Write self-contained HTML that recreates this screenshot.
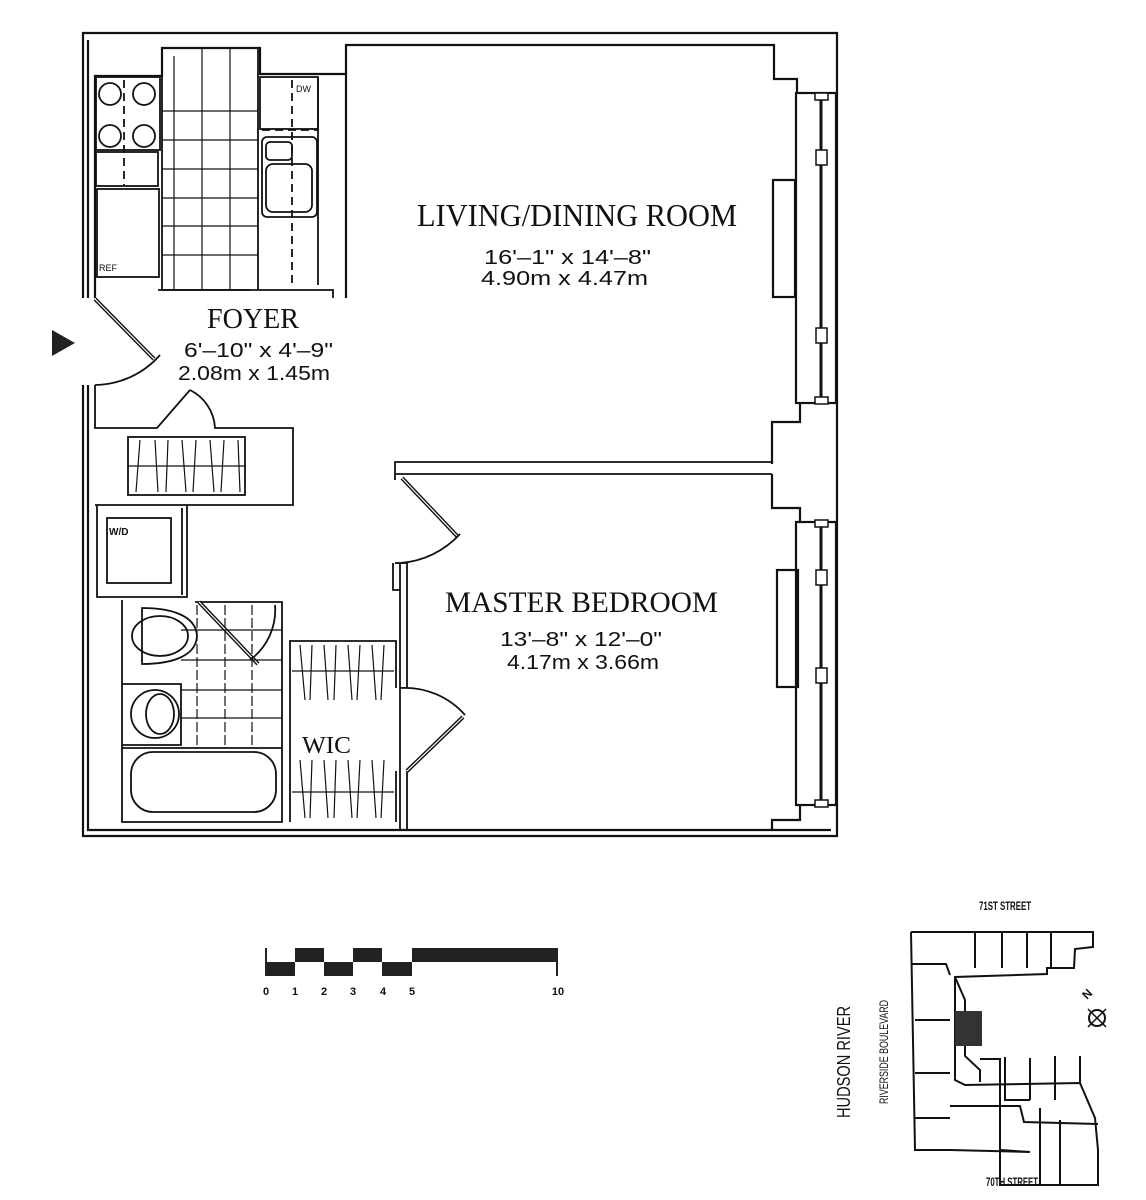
<!DOCTYPE html>
<html><head><meta charset="utf-8"><style>
html,body{margin:0;padding:0;background:#fff;width:1146px;height:1200px;overflow:hidden}
svg{display:block}
.s{font-family:"Liberation Serif",serif;fill:#111}
.a{font-family:"Liberation Sans",sans-serif;fill:#111}
</style></head><body>
<svg width="1146" height="1200" viewBox="0 0 1146 1200" xmlns="http://www.w3.org/2000/svg">
<g fill="none" stroke="#111" stroke-width="2.2">
<!-- outer shell -->
<path d="M83,298 L83,33 L837,33 L837,836 L83,836 L83,385"/>
<path d="M88,298 L88,40 M88,385 L88,830 L831,830"/>
<!-- kitchen outline -->
<path d="M95,298 L95,76 L162,76 L162,48 L260,48 L260,74 L346,74"/>
<path d="M346,298 L346,45 L774,45 L774,79 L797,79 L797,93"/>
<!-- windows -->
<rect x="796" y="93" width="40" height="310"/>
<rect x="796" y="522" width="40" height="283"/>
<path d="M800,403 L800,422 L772,422 L772,464 M772,474 L772,508 L800,508 L800,522"/>
<path d="M800,805 L800,820 L772,820 L772,830"/>
<rect x="773" y="180" width="22" height="117"/>
<rect x="777" y="570" width="21" height="117"/>
</g>
<g stroke="#111" stroke-width="3">
<line x1="821" y1="97" x2="821" y2="400"/>
<line x1="821" y1="526" x2="821" y2="802"/>
</g>
<g fill="#fff" stroke="#111" stroke-width="1.5">
<rect x="815" y="93" width="13" height="7"/><rect x="815" y="397" width="13" height="7"/>
<rect x="816" y="150" width="11" height="15"/><rect x="816" y="328" width="11" height="15"/>
<rect x="815" y="520" width="13" height="7"/><rect x="815" y="800" width="13" height="7"/>
<rect x="816" y="570" width="11" height="15"/><rect x="816" y="668" width="11" height="15"/>
</g>
<g fill="none" stroke="#111" stroke-width="1.8">
<!-- kitchen -->
<rect x="96" y="77" width="64" height="73"/>
<circle cx="110" cy="94" r="11"/><circle cx="144" cy="94" r="11"/>
<circle cx="110" cy="136" r="11"/><circle cx="144" cy="136" r="11"/>
<rect x="96" y="152" width="62" height="34"/>
<rect x="97" y="189" width="62" height="88"/>
<path d="M162,48 L162,290 L333,290 L333,298" />
<path d="M158,290 L250,290"/>
<line x1="258" y1="48" x2="258" y2="290"/>
<line x1="174" y1="56" x2="174" y2="290" stroke-width="1.2"/>
<line x1="202" y1="48" x2="202" y2="290" stroke-width="1.2"/>
<line x1="230" y1="48" x2="230" y2="290" stroke-width="1.2"/>
<line x1="162" y1="111" x2="258" y2="111" stroke-width="1.2"/>
<line x1="162" y1="140" x2="258" y2="140" stroke-width="1.2"/>
<line x1="162" y1="169" x2="258" y2="169" stroke-width="1.2"/>
<line x1="162" y1="198" x2="258" y2="198" stroke-width="1.2"/>
<line x1="162" y1="226" x2="258" y2="226" stroke-width="1.2"/>
<line x1="162" y1="255" x2="258" y2="255" stroke-width="1.2"/>
<rect x="260" y="77" width="58" height="52"/>
<rect x="262" y="137" width="55" height="80" rx="5"/>
<rect x="266" y="142" width="26" height="18" rx="4"/>
<rect x="266" y="164" width="46" height="48" rx="7"/>
<line x1="318" y1="77" x2="318" y2="285"/>
<line x1="124" y1="80" x2="124" y2="185" stroke-dasharray="8,5"/>
<line x1="292" y1="80" x2="292" y2="285" stroke-dasharray="8,5"/>
<line x1="262" y1="130" x2="318" y2="130" stroke-dasharray="8,5"/>
<!-- entry door -->
<line x1="95" y1="299" x2="154" y2="359" stroke-width="4"/>
<line x1="95" y1="299" x2="154" y2="359" stroke="#fff" stroke-width="1.2"/>
<path d="M160,355 A88,88 0 0 1 95,385"/>
<path d="M95,385 L95,428 L157,428 L190,390"/>
<path d="M190,390 A45,45 0 0 1 215,428 L293,428 L293,505 L95,505"/>
<rect x="128" y="437" width="117" height="58"/>
<line x1="128" y1="466" x2="245" y2="466" stroke-width="1.2"/>
<!-- W/D -->
<path d="M97,505 L97,597 L187,597 L187,505"/>
<rect x="107" y="518" width="64" height="65"/>
<line x1="182" y1="508" x2="182" y2="595"/>
<!-- bath -->
<path d="M122,600 L122,822 L282,822 L282,602 L195,602"/>
<line x1="199" y1="602" x2="258" y2="664" stroke-width="4"/>
<line x1="199" y1="602" x2="258" y2="664" stroke="#fff" stroke-width="1.2"/>
<path d="M275,605 A62,62 0 0 1 250,660"/>
<path d="M142,608 C170,608 196,615 197,636 C196,657 170,664 142,664 Z"/>
<ellipse cx="160" cy="636" rx="28" ry="20"/>
<path d="M122,684 L181,684 L181,745 L122,745"/>
<circle cx="155" cy="714" r="24"/>
<ellipse cx="160" cy="714" rx="14" ry="20"/>
<line x1="122" y1="748" x2="282" y2="748"/>
<rect x="131" y="752" width="145" height="60" rx="22"/>
<line x1="181" y1="630" x2="282" y2="630" stroke-width="1.2"/>
<line x1="181" y1="660" x2="282" y2="660" stroke-width="1.2"/>
<line x1="181" y1="690" x2="282" y2="690" stroke-width="1.2"/>
<line x1="181" y1="718" x2="282" y2="718" stroke-width="1.2"/>
<line x1="197" y1="605" x2="197" y2="745" stroke-width="1.2" stroke-dasharray="10,3"/>
<line x1="225" y1="605" x2="225" y2="745" stroke-width="1.2" stroke-dasharray="10,3"/>
<line x1="252" y1="605" x2="252" y2="745" stroke-width="1.2" stroke-dasharray="10,3"/>
<!-- WIC -->
<path d="M290,822 L290,641 L396,641 L396,688 M396,771 L396,822 Z"/>
<line x1="292" y1="671" x2="394" y2="671" stroke-width="1.2"/>
<line x1="292" y1="792" x2="394" y2="792" stroke-width="1.2"/>
<!-- bedroom partition -->
<path d="M395,480 L395,462 L773,462 M395,474 L772,474"/>
<path d="M400,563 L400,830 M407,563 L407,688 M407,771 L407,830"/>
<path d="M395,563 L407,563"/>
<line x1="402" y1="478" x2="458" y2="537" stroke-width="4"/>
<line x1="402" y1="478" x2="458" y2="537" stroke="#fff" stroke-width="1.2"/>
<path d="M460,534 A90,90 0 0 1 400,563"/>
<path d="M400,688 A80,80 0 0 1 465,715"/>
<line x1="463" y1="717" x2="407" y2="771" stroke-width="4"/>
<line x1="463" y1="717" x2="407" y2="771" stroke="#fff" stroke-width="1.2"/>
<path d="M393,563 L393,590 L400,590"/>
</g>
<!-- closet hangers -->
<g stroke="#111" stroke-width="1.2">
<path d="M140,440 L136,492 M155,440 L158,492 M168,440 L166,492 M182,440 L186,492 M196,440 L193,492 M210,440 L214,492 M224,440 L221,492 M238,440 L240,492"/>
<path d="M300,645 L305,700 M312,645 L310,700 M324,645 L328,700 M336,645 L334,700 M348,645 L352,700 M360,645 L357,700 M372,645 L376,700 M384,645 L381,700"/>
<path d="M300,760 L305,818 M312,760 L310,818 M324,760 L328,818 M336,760 L334,818 M348,760 L352,818 M360,760 L357,818 M372,760 L376,818 M384,760 L381,818"/>
</g>
<polygon points="52,330 75,343 52,356" fill="#222"/>
<text x="99" y="271" class="a" font-size="9">REF</text>
<text x="296" y="92" class="a" font-size="9">DW</text>
<text x="109" y="535" class="a" font-size="10" font-weight="bold">W/D</text>
<text x="417" y="226" class="s" font-size="32" textLength="320" lengthAdjust="spacingAndGlyphs">LIVING/DINING ROOM</text>
<text x="484" y="264" class="a" font-size="20" textLength="167" lengthAdjust="spacingAndGlyphs">16'–1" x 14'–8"</text>
<text x="481" y="285" class="a" font-size="20" textLength="167" lengthAdjust="spacingAndGlyphs">4.90m x 4.47m</text>
<text x="207" y="328" class="s" font-size="28" textLength="92" lengthAdjust="spacingAndGlyphs">FOYER</text>
<text x="184" y="357" class="a" font-size="20" textLength="149" lengthAdjust="spacingAndGlyphs">6'–10" x 4'–9"</text>
<text x="178" y="380" class="a" font-size="20" textLength="152" lengthAdjust="spacingAndGlyphs">2.08m x 1.45m</text>
<text x="445" y="612" class="s" font-size="30" textLength="273" lengthAdjust="spacingAndGlyphs">MASTER BEDROOM</text>
<text x="500" y="646" class="a" font-size="20" textLength="162" lengthAdjust="spacingAndGlyphs">13'–8" x 12'–0"</text>
<text x="507" y="669" class="a" font-size="20" textLength="152" lengthAdjust="spacingAndGlyphs">4.17m x 3.66m</text>
<text x="302" y="753" class="s" font-size="24" textLength="49" lengthAdjust="spacingAndGlyphs">WIC</text>
<!-- scale -->
<g fill="#222">
<rect x="266" y="962" width="29" height="14"/><rect x="295" y="948" width="29" height="14"/>
<rect x="324" y="962" width="29" height="14"/><rect x="353" y="948" width="29" height="14"/>
<rect x="382" y="962" width="30" height="14"/><rect x="412" y="948" width="146" height="14"/>
<rect x="265" y="948" width="2" height="28"/><rect x="556" y="948" width="2" height="28"/>
</g>
<g class="a" font-size="11" font-weight="bold" text-anchor="middle">
<text x="266" y="995">0</text><text x="295" y="995">1</text><text x="324" y="995">2</text><text x="353" y="995">3</text><text x="383" y="995">4</text><text x="412" y="995">5</text><text x="558" y="995">10</text>
</g>
<!-- site plan -->
<g fill="none" stroke="#111" stroke-width="2">
<path d="M911,932 L1093,932 L1093,947 L1075,949 L1074,968 L1047,968 L1047,974 L955,977 L955,1080 L965,1085 L1080,1083 L1095,1118 L1098,1150 L1098,1185 L1000,1185 L1000,1150 L1030,1152 L950,1150 L915,1150 L911,932"/>
<path d="M911,964 L946,964 L950,975 M915,1020 L950,1020 M915,1073 L950,1073 M915,1118 L950,1118 M975,932 L975,968 M1002,932 L1002,968 M1027,932 L1027,968 M1051,932 L1051,968"/>
<path d="M955,977 L965,1000 L965,1056 L980,1070 L980,1082"/>
<path d="M980,1059 L1000,1059 L1000,1108 M1005,1057 L1005,1100 L1030,1100 M1030,1058 L1030,1100 M1055,1056 L1055,1100 M1080,1056 L1080,1083"/>
<path d="M950,1106 L1020,1106 L1024,1122 L1098,1124 M1000,1106 L1000,1150 M1040,1108 L1040,1185 M1060,1120 L1060,1185"/>
</g>
<rect x="955" y="1011" width="27" height="35" fill="#333"/>
<text transform="translate(1005,910)" class="a" font-size="12" font-weight="bold" text-anchor="middle" textLength="52" lengthAdjust="spacingAndGlyphs">71ST STREET</text>
<text transform="translate(1012,1186)" class="a" font-size="12" font-weight="bold" text-anchor="middle" textLength="52" lengthAdjust="spacingAndGlyphs">70TH STREET</text>
<text transform="translate(850,1118) rotate(-90)" class="a" font-size="18" textLength="112" lengthAdjust="spacingAndGlyphs">HUDSON RIVER</text>
<text transform="translate(888,1104) rotate(-90)" class="a" font-size="12" textLength="104" lengthAdjust="spacingAndGlyphs">RIVERSIDE BOULEVARD</text>
<circle cx="1097" cy="1018" r="8" fill="none" stroke="#111" stroke-width="2"/>
<path d="M1088,1027 L1106,1009 M1088,1009 L1106,1027" stroke="#111" stroke-width="1.5"/>
<text transform="translate(1087,1000) rotate(-45)" class="a" font-size="12" font-weight="bold">N</text>
</svg>
</body></html>
